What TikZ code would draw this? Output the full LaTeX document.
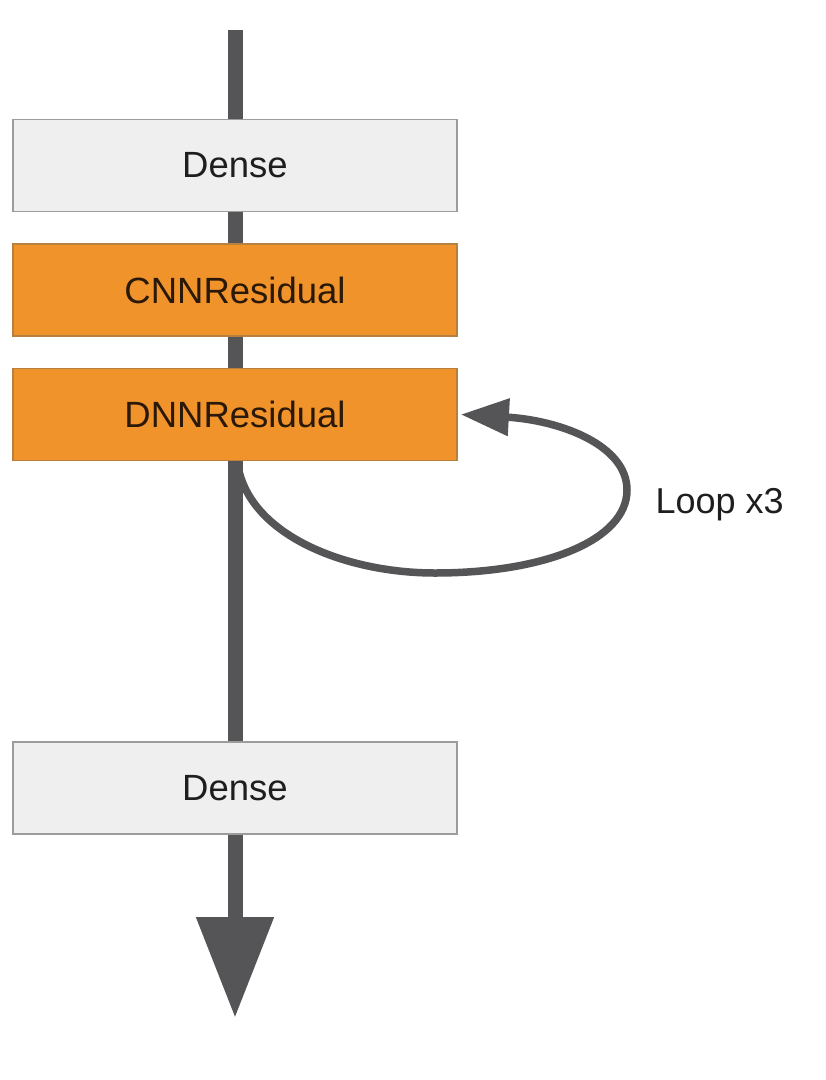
\documentclass[tikz,border=0pt]{standalone}
\usepackage{fontspec}
\setmainfont{Liberation Sans}
\usetikzlibrary{arrows.meta}
\definecolor{linegray}{HTML}{555557}
\definecolor{boxfill}{HTML}{EFEFEF}
\definecolor{boxline}{HTML}{9C9C9C}
\definecolor{orangefill}{HTML}{F0932B}
\definecolor{orangeline}{HTML}{B8803E}
\definecolor{txt}{HTML}{1E1E1E}
\definecolor{otxt}{HTML}{2A1808}
\begin{document}
\begin{tikzpicture}[x=1pt,y=-1pt,
  layer/.style={rectangle, minimum width=444pt, minimum height=92pt, inner sep=0pt,
    line width=1.8pt, font=\fontsize{36.5}{40}\selectfont},
  graybox/.style={layer, draw=boxline, fill=boxfill, text=txt},
  orangebox/.style={layer, draw=orangeline, fill=orangefill, text=otxt},
  mainline/.style={draw=linegray, line width=15pt},
  loopline/.style={draw=linegray, line width=7.5pt}]
\useasboundingbox[fill=white] (0,0) rectangle (826,1080);
\coordinate (top) at (235,30);
\coordinate (bottom) at (235,1018);
\node[graybox] (d1) at (235,165.5) {Dense};
\node[orangebox] (c) at (235,290) {CNNResidual};
\node[orangebox] (r) at (235,414.5) {DNNResidual};
\node[graybox] (d2) at (235,788) {Dense};
\node[font=\fontsize{36}{40}\selectfont, text=txt, anchor=west] (loop) at (652,505) {Loop x3};
\draw[mainline] (top) -- (d1.north);
\draw[mainline] (d1.south) -- (c.north);
\draw[mainline] (c.south) -- (r.north);
\draw[mainline] (r.south) -- (d2.north);
\draw[mainline, -{Triangle[length=101pt,width=74pt]}] (d2.south) -- (bottom);
\coordinate (ls) at (238,466);
\draw[loopline, -{Triangle[length=48pt,width=36pt]}] (ls)
  .. controls (250,535) and (345,573) .. (435,573)
  .. controls (545,573) and (627,540) .. (627,490)
  .. controls (627,445) and (560,420) .. (505,417)
  -- ([xshift=3pt]r.east);
\end{tikzpicture}
\end{document}
